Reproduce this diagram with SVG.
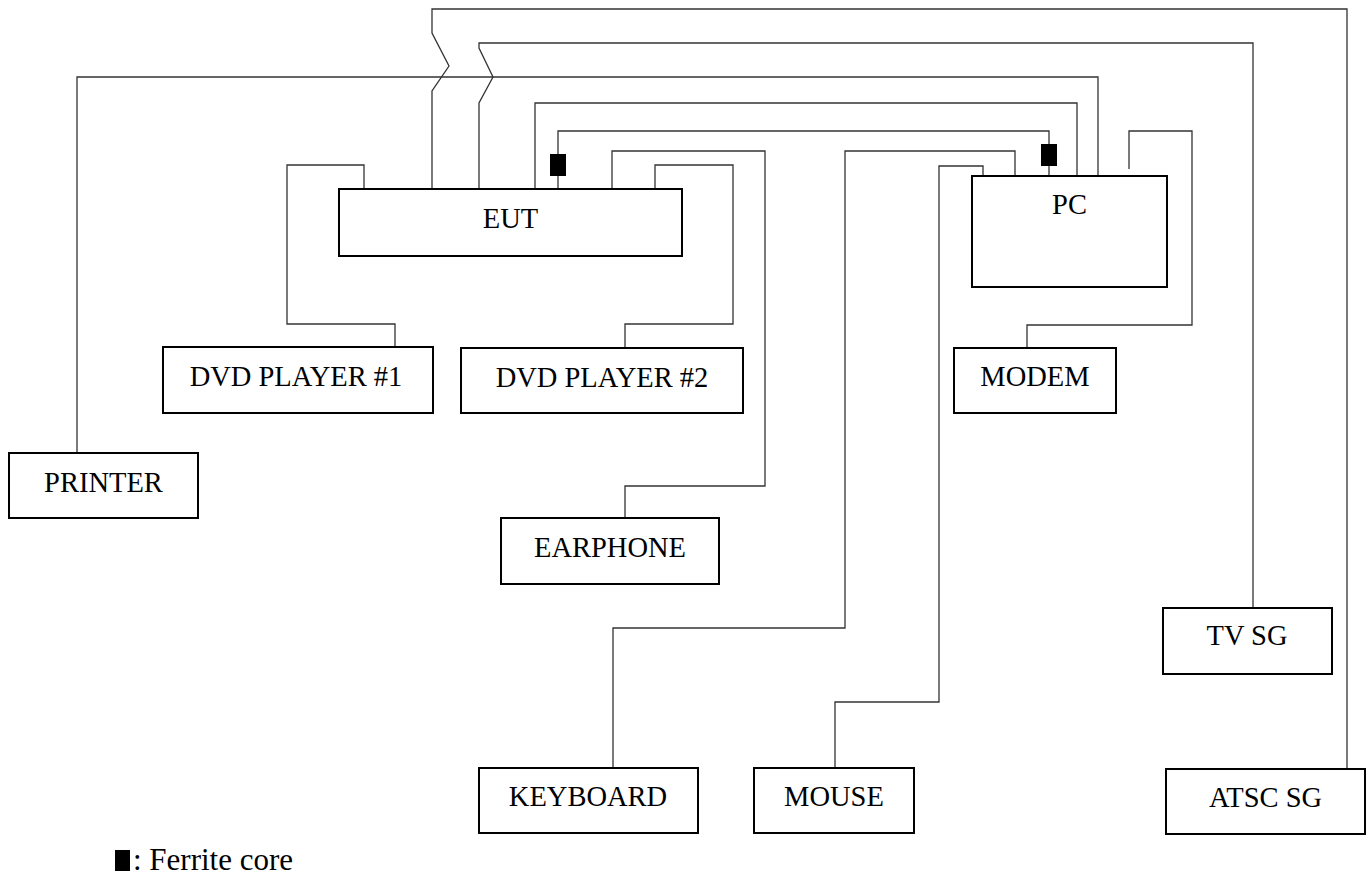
<svg xmlns="http://www.w3.org/2000/svg" width="1370" height="875" viewBox="0 0 1370 875">
<style>
.box{fill:#fff;stroke:#000;stroke-width:2}
.lbl{font-family:"Liberation Serif","Times New Roman",serif;font-size:28.5px;fill:#000;text-anchor:middle}
.w{fill:none;stroke:#333;stroke-width:1.3}
.fc{fill:#000}
</style>
<rect width="1370" height="875" fill="#fff"/>
<g id="connectors">
<polyline class="w" points="432,190 432,91 449,66 432,33 432,9 1347,9 1347,769"/>
<polyline class="w" points="479,190 479,103 493,77 479,48 479,43 1253,43 1253,608"/>
<polyline class="w" points="77,453 77,77 1098,77 1098,176"/>
<polyline class="w" points="535,190 535,103 1077,103 1077,176"/>
<polyline class="w" points="558,190 558,131 1049,131 1049,176"/>
<polyline class="w" points="364,190 364,165 287,165 287,324 395,324 395,347"/>
<polyline class="w" points="655,190 655,165 733,165 733,324 625,324 625,348"/>
<polyline class="w" points="612,190 612,151 765,151 765,486 625,486 625,518"/>
<polyline class="w" points="1015,176 1015,151 845,151 845,628 613,628 613,768"/>
<polyline class="w" points="983,176 983,166 939,166 939,702 835,702 835,768"/>
<polyline class="w" points="1129,169 1129,131 1192,131 1192,325 1027,325 1027,348"/>
<rect class="fc" x="550" y="154" width="16" height="22"/>
<rect class="fc" x="1041" y="144" width="16" height="22"/>
</g>
<g id="eut"><rect class="box" x="339" y="189" width="343" height="67"/><text class="lbl" x="510.5" y="228">EUT</text></g>
<g id="pc"><rect class="box" x="972" y="176" width="195" height="111"/><text class="lbl" x="1069.5" y="214">PC</text></g>
<g id="dvd1"><rect class="box" x="163" y="347" width="270" height="66"/><text class="lbl" x="296" y="386">DVD PLAYER #1</text></g>
<g id="dvd2"><rect class="box" x="461" y="348" width="282" height="65"/><text class="lbl" x="602" y="387">DVD PLAYER #2</text></g>
<g id="modem"><rect class="box" x="954" y="348" width="162" height="65"/><text class="lbl" x="1035" y="386">MODEM</text></g>
<g id="printer"><rect class="box" x="9" y="453" width="189" height="65"/><text class="lbl" x="103.5" y="492">PRINTER</text></g>
<g id="earphone"><rect class="box" x="501" y="518" width="218" height="66"/><text class="lbl" x="610" y="557">EARPHONE</text></g>
<g id="tvsg"><rect class="box" x="1163" y="608" width="169" height="66"/><text class="lbl" x="1247" y="645">TV SG</text></g>
<g id="keyboard"><rect class="box" x="479" y="768" width="219" height="65"/><text class="lbl" x="588" y="806">KEYBOARD</text></g>
<g id="mouse"><rect class="box" x="754" y="768" width="160" height="65"/><text class="lbl" x="834" y="806">MOUSE</text></g>
<g id="atscsg"><rect class="box" x="1166" y="769" width="199" height="65"/><text class="lbl" x="1265.5" y="807">ATSC SG</text></g>
<g id="legend"><rect class="fc" x="115" y="850" width="15" height="21"/><text x="133" y="870" font-family="Liberation Serif, Times New Roman, serif" font-size="31" fill="#000">: Ferrite core</text></g>
</svg>
